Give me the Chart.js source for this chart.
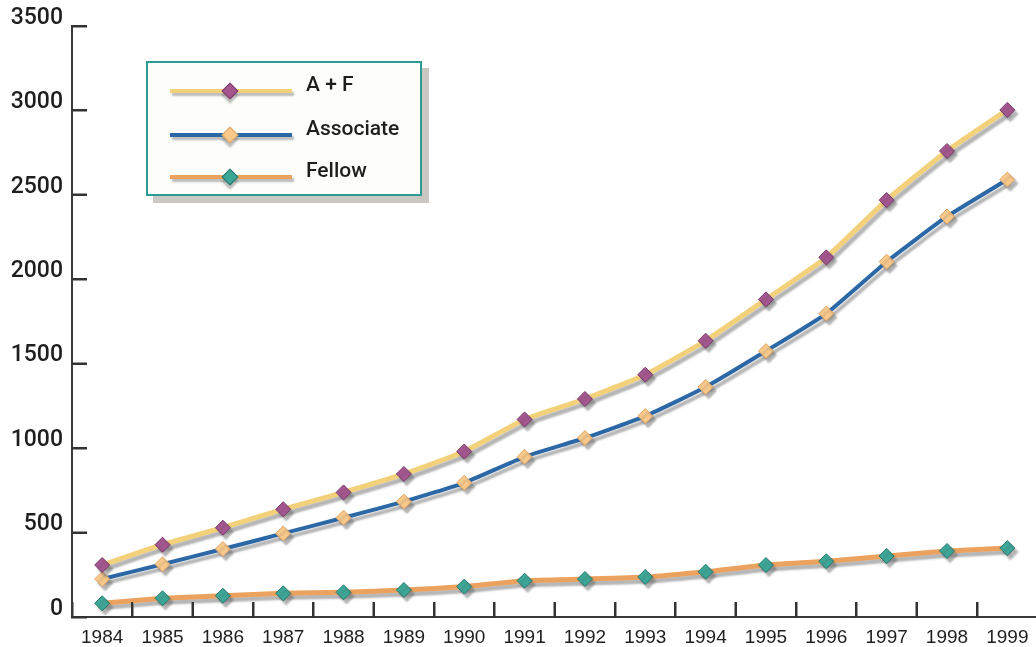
<!DOCTYPE html>
<html>
<head>
<meta charset="utf-8">
<script src="https://cdn.jsdelivr.net/npm/chart.js@4.4.0/dist/chart.umd.min.js"></script>
<style>
  html, body { margin: 0; padding: 0; background: #fff; overflow: hidden; }
  #wrap { position: absolute; left: 0; top: 0; width: 1046px; height: 647px; }
  #legend {
    position: absolute; left: 146px; top: 61px; width: 272px; height: 131px;
    border: 2px solid #2c9b93; background: #fdfdfb;
    box-shadow: 7px 7px 0 #cbc8c3;
    font-family: Roboto, "Liberation Sans", Arial, sans-serif; font-size: 21px; font-weight: 500; color: #1e1e1e;
  }
  .swatch { position: absolute; left: 22px; width: 122px; height: 4px; box-shadow: 2px 3px 2px rgba(90,90,90,0.4); }
  .diamond { position: absolute; width: 10px; height: 10px; transform: rotate(45deg); border: 1px solid; box-shadow: 3px 3px 2px rgba(90,90,90,0.4); }
  .label { position: absolute; left: 158px; line-height: 24px; }
</style>
</head>
<body>
<div id="wrap">
  <canvas id="chart" width="1046" height="647"></canvas>
  <div id="legend"></div>
</div>
<script>
const years = ['1984', '1985', '1986', '1987', '1988', '1989', '1990', '1991',
               '1992', '1993', '1994', '1995', '1996', '1997', '1998', '1999'];
const totalAF   = [308, 428, 529, 638, 738, 847, 980, 1170, 1291, 1435, 1636, 1881, 2130, 2469, 2760, 3003];
const associate = [225, 312, 403, 495, 588, 683, 795, 949, 1060, 1190, 1362, 1575, 1797, 2104, 2372, 2591];
const fellow    = [81, 111, 126, 140, 146, 160, 180, 215, 225, 237, 268, 308, 330, 361, 391, 408];
const yTickValues = [0, 500, 1000, 1500, 2000, 2500, 3000, 3500];

const seriesNames = ['A + F', 'Associate', 'Fellow'];
const lineColors = ['#f3d07a', '#2b68a5', '#eca25f'];
const pointColors = ['#a4568f', '#f8c98b', '#3ca697'];
const pointBorders = ['#7a3b6c', '#e1a464', '#27786d'];
const lineWidths = [5, 4, 5];

// grey drop shadow under lines and markers
const dropShadow = {
    id: 'dropShadow',
    beforeDatasetDraw(chart) {
        const c = chart.ctx;
        c.save();
        c.shadowColor = 'rgba(90, 90, 90, 0.45)';
        c.shadowOffsetX = 3;
        c.shadowOffsetY = 4;
        c.shadowBlur = 2;
    },
    afterDatasetDraw(chart) {
        chart.ctx.restore();
    }
};

// extra pass of the inward tick marks, placed by the scales
const innerTicks = {
    id: 'innerTicks',
    afterDraw(chart) {
        const c = chart.ctx;
        const area = chart.chartArea;
        const xs = chart.scales.x;
        const ys = chart.scales.y;
        c.save();
        c.shadowColor = 'transparent';
        c.fillStyle = '#333';
        yTickValues.forEach(v => {
            const y = Math.round(ys.getPixelForValue(v));
            c.fillRect(Math.round(area.left) - 1, y - 1, 16, 2);
        });
        for (let i = 1; i < years.length; i++) {
            const x = Math.round((xs.getPixelForValue(i - 1) + xs.getPixelForValue(i)) / 2);
            c.fillRect(x - 1, Math.round(area.bottom) - 15, 2, 16);
        }
        c.restore();
    }
};

const values = [totalAF, associate, fellow];
const datasets = values.map((v, i) => ({
    label: seriesNames[i],
    data: v,
    borderColor: lineColors[i],
    borderWidth: lineWidths[i],
    tension: 0.15,
    pointStyle: 'rectRot',
    pointRadius: 7.5,
    pointBackgroundColor: pointColors[i],
    pointBorderColor: pointBorders[i],
    pointBorderWidth: 1,
    fill: false,
    clip: false
}));

// tick marks point into the plot: negative tick length
const tickGrid = {
    drawOnChartArea: false,
    drawTicks: true,
    tickLength: -15,
    tickColor: '#333',
    tickWidth: 2
};

new Chart(document.getElementById('chart').getContext('2d'), {
    type: 'line',
    data: { labels: years, datasets: datasets },
    options: {
        responsive: false,
        animation: false,
        devicePixelRatio: 1,
        layout: { padding: { top: 26, right: 4, left: 0, bottom: 0 } },
        plugins: {
            legend: { display: false },
            tooltip: { enabled: false }
        },
        scales: {
            x: {
                offset: true,
                grid: Object.assign({ offset: true }, tickGrid),
                border: { color: '#3a3a3a', width: 2 },
                ticks: {
                    color: '#1e1e1e',
                    font: { family: '"Liberation Sans", sans-serif', size: 19 },
                    padding: 24,
                    maxRotation: 0,
                    autoSkip: false
                },
                afterFit(scale) {
                    scale.height = 30;
                    scale.paddingLeft = 0;
                    scale.paddingRight = 0;
                }
            },
            y: {
                min: 0,
                max: 3500,
                grid: Object.assign({}, tickGrid),
                border: { color: '#3a3a3a', width: 2 },
                afterBuildTicks(scale) { scale.ticks = yTickValues.map(v => ({ value: v })); },
                ticks: {
                    color: '#1e1e1e',
                    font: { family: 'Roboto, "Liberation Sans", sans-serif', size: 23, weight: '500' },
                    padding: 24,
                    labelOffset: -8,
                    callback: v => String(v)
                },
                afterFit(scale) {
                    scale.width = 72;
                    scale.paddingTop = 0;
                    scale.paddingBottom = 0;
                }
            }
        }
    },
    plugins: [dropShadow, innerTicks]
});

// legend box: line sample with diamond marker, then the name
const legend = document.getElementById('legend');
const rowTops = [28, 72, 114];
seriesNames.forEach((name, i) => {
    const sw = document.createElement('div');
    sw.className = 'swatch';
    sw.style.top = (rowTops[i] - 2) + 'px';
    sw.style.background = lineColors[i];
    legend.appendChild(sw);
    const d = document.createElement('div');
    d.className = 'diamond';
    d.style.left = (82 - 6) + 'px';
    d.style.top = (rowTops[i] - 6) + 'px';
    d.style.background = pointColors[i];
    d.style.borderColor = pointBorders[i];
    legend.appendChild(d);
    const t = document.createElement('div');
    t.className = 'label';
    t.style.top = (rowTops[i] - 19) + 'px';
    t.textContent = name;
    legend.appendChild(t);
});
</script>
</body>
</html>
